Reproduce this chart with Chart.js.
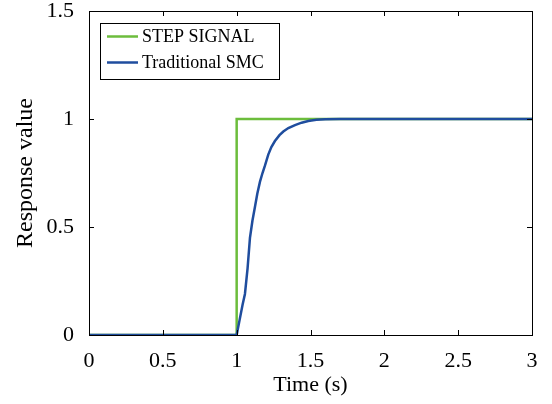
<!DOCTYPE html>
<html lang="en">
    <head>
        <title> Step response </title>
        <script src="https://cdn.jsdelivr.net/npm/chart.js@4.4.1/dist/chart.umd.min.js"></script>
        <style>
            html, body { margin: 0; padding: 0; background: #fff; }
            #wrap { width: 552px; height: 404px; }
        </style>
    </head>
    <body>
        <div id="wrap"><canvas id="myChart" width="552" height="404"></canvas></div>
        <script>

            // data
            const stepTime  = [0, 1, 1, 3];
            const stepValue = [0, 0, 1, 1];

            const smcTime  = [0, 1, 1.02, 1.04, 1.056, 1.074, 1.09, 1.107, 1.124, 1.14, 1.158, 1.175, 1.192, 1.214, 1.235, 1.259, 1.29, 1.316, 1.35, 1.395, 1.44, 1.485, 1.54, 1.6, 1.7, 3];
            const smcValue = [0, 0, 0.07, 0.14, 0.19, 0.31, 0.45, 0.53, 0.594, 0.655, 0.71, 0.75, 0.785, 0.835, 0.87, 0.898, 0.925, 0.942, 0.958, 0.972, 0.983, 0.991, 0.996, 0.999, 1.0, 1.0];

            const xTicks = [0, 0.5, 1, 1.5, 2, 2.5, 3];
            const yTicks = [0, 0.5, 1, 1.5];

            const seriesNames = ['STEP SIGNAL', 'Traditional SMC'];
            const seriesColors = ['#6cbd3c', '#1f4d9e'];

            const toPoints = (xs, ys) => xs.map((x, i) => ({ x: x, y: ys[i] }));
            const serif = 'Liberation Serif, Times New Roman, serif';

            // frame, inward ticks and the boxed legend, MATLAB style
            const matlabFrame = {
                id: 'matlabFrame',
                afterDatasetsDraw(chart) {
                    const ctx = chart.ctx;
                    const a = chart.chartArea;
                    const xs = chart.scales.x, ys = chart.scales.y;
                    const tl = 5;
                    ctx.save();
                    ctx.strokeStyle = '#000';
                    ctx.lineWidth = 1;
                    ctx.beginPath();
                    xTicks.forEach(v => {
                        const px = Math.round(xs.getPixelForValue(v)) + 0.5;
                        ctx.moveTo(px, a.bottom); ctx.lineTo(px, a.bottom - tl);
                        ctx.moveTo(px, a.top); ctx.lineTo(px, a.top + tl);
                    });
                    yTicks.forEach(v => {
                        const py = Math.round(ys.getPixelForValue(v)) + 0.5;
                        ctx.moveTo(a.left, py); ctx.lineTo(a.left + tl, py);
                        ctx.moveTo(a.right, py); ctx.lineTo(a.right - tl, py);
                    });
                    ctx.stroke();
                    ctx.strokeRect(Math.round(a.left) + 0.5, Math.round(a.top) + 0.5,
                                   Math.round(a.right - a.left), Math.round(a.bottom - a.top));

                    // legend box
                    const bx = a.left + 11, by = a.top + 12, bw = 179, bh = 56;
                    ctx.fillStyle = '#fff';
                    ctx.fillRect(bx, by, bw, bh);
                    ctx.strokeRect(Math.round(bx) + 0.5, Math.round(by) + 0.5, bw, bh);
                    ctx.font = '18px ' + serif;
                    ctx.textBaseline = 'middle';
                    seriesNames.forEach((name, i) => {
                        const ly = by + 13.5 + i * 26;
                        ctx.strokeStyle = seriesColors[i];
                        ctx.lineWidth = 2.5;
                        ctx.beginPath();
                        ctx.moveTo(bx + 7, ly); ctx.lineTo(bx + 38, ly);
                        ctx.stroke();
                        ctx.fillStyle = '#000';
                        ctx.fillText(name, bx + 42, ly + 1);
                    });
                    ctx.restore();
                }
            };

            const fmt = v => String(Number(v));
            const noPad = s => { s.paddingTop = 0; s.paddingBottom = 0; s.paddingLeft = 0; s.paddingRight = 0; };

            const ctx = document.getElementById('myChart').getContext('2d');
            const myChart = new Chart(ctx, {
                type: 'line',
                data: {
                    datasets: [{
                        label: seriesNames[1],
                        data: toPoints(smcTime, smcValue),
                        borderColor: seriesColors[1],
                        borderWidth: 2.5,
                        pointRadius: 0,
                        tension: 0,
                        order: 0
                    }, {
                        label: seriesNames[0],
                        data: toPoints(stepTime, stepValue),
                        borderColor: seriesColors[0],
                        borderWidth: 2.5,
                        pointRadius: 0,
                        tension: 0,
                        order: 1
                    }]
                },
                options: {
                    responsive: false,
                    animation: false,
                    layout: { padding: { top: 11, right: 20, left: 0, bottom: 0 } },
                    plugins: {
                        legend: { display: false },
                        tooltip: { enabled: false }
                    },
                    scales: {
                        x: {
                            type: 'linear',
                            min: 0, max: 3,
                            afterBuildTicks: s => { s.ticks = xTicks.map(v => ({ value: v })); },
                            afterFit: s => { s.height = 69; noPad(s); },
                            grid: { display: false },
                            border: { display: false },
                            ticks: {
                                color: '#000',
                                padding: 5,
                                maxRotation: 0,
                                callback: fmt,
                                font: { family: serif, size: 22 }
                            },
                            title: {
                                display: true,
                                text: 'Time (s)',
                                color: '#000',
                                padding: { top: 0, bottom: 6 },
                                font: { family: serif, size: 22 }
                            }
                        },
                        y: {
                            type: 'linear',
                            min: 0, max: 1.5,
                            afterBuildTicks: s => { s.ticks = yTicks.map(v => ({ value: v })); },
                            afterFit: s => { s.width = 89; noPad(s); },
                            grid: { display: false },
                            border: { display: false },
                            ticks: {
                                color: '#000',
                                padding: 7,
                                callback: fmt,
                                font: { family: serif, size: 22 }
                            },
                            title: {
                                display: true,
                                text: 'Response value',
                                color: '#000',
                                padding: { top: 11, bottom: 0 },
                                font: { family: serif, size: 24 }
                            }
                        }
                    }
                },
                plugins: [matlabFrame]
            });

        </script>
    </body>
</html>
